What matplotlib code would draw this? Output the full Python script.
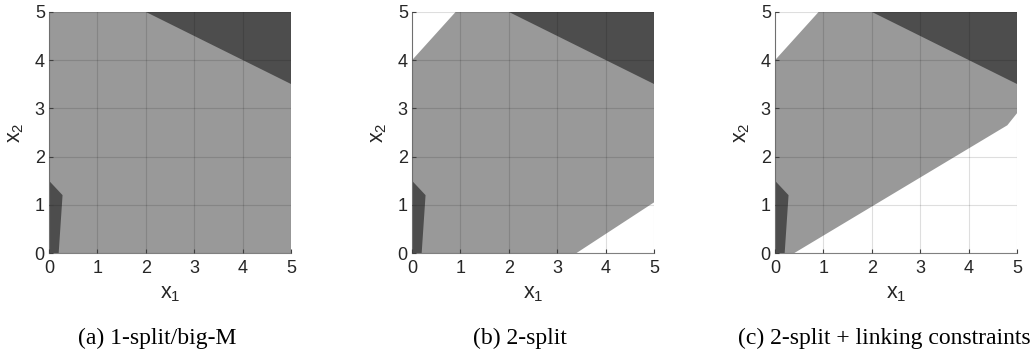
import matplotlib
matplotlib.use("Agg")
import matplotlib.pyplot as plt
from matplotlib.patches import Polygon

# feasible regions (light) and the two dark regions, same in every panel
light_a_x = [0, 5, 5, 0]
light_a_y = [0, 0, 5, 5]
light_b_x = [0, 3.4, 5, 5, 0.9, 0]
light_b_y = [0, 0, 1.05, 5, 5, 4]
light_c_x = [0, 0.4, 4.8, 5, 5, 0.9, 0]
light_c_y = [0, 0, 2.65, 2.9, 5, 5, 4]

dark_top_x = [2, 5, 5]
dark_top_y = [5, 5, 3.5]
dark_low_x = [0, 0.2, 0.28, 0]
dark_low_y = [0, 0, 1.2, 1.5]

captions = ["(a) 1-split/big-M", "(b) 2-split", "(c) 2-split + linking constraints"]
ticks = [0, 1, 2, 3, 4, 5]

LIGHT = "#999999"
DARK = "#4d4d4d"

fig = plt.figure(figsize=(10.36, 3.56), dpi=100)

lefts = [49 / 1036, 412 / 1036, 775 / 1036]
lights = [(light_a_x, light_a_y), (light_b_x, light_b_y), (light_c_x, light_c_y)]

for left, (lx, ly), cap in zip(lefts, lights, captions):
    ax = fig.add_axes([left, 1 - 253 / 356, 242 / 1036, 241 / 356])
    ax.add_patch(Polygon(list(zip(lx, ly)), closed=True, facecolor=LIGHT, edgecolor="none"))
    ax.add_patch(Polygon(list(zip(dark_top_x, dark_top_y)), closed=True, facecolor=DARK, edgecolor="none"))
    ax.add_patch(Polygon(list(zip(dark_low_x, dark_low_y)), closed=True, facecolor=DARK, edgecolor="none"))
    ax.set_xlim(0, 5)
    ax.set_ylim(0, 5)
    ax.set_xticks(ticks)
    ax.set_yticks(ticks)
    ax.set_axisbelow(False)
    ax.grid(True, color="black", alpha=0.13, linewidth=0.8)
    for s in ["top", "right"]:
        ax.spines[s].set_visible(False)
    for s in ["left", "bottom"]:
        ax.spines[s].set_color("#808080")
        ax.spines[s].set_linewidth(0.8)
    ax.tick_params(direction="in", length=3, color="#404040", labelsize=13,
                   labelcolor="#262626")
    ax.tick_params(axis="x", pad=5)
    ax.tick_params(axis="y", pad=3)
    for lab in ax.get_xticklabels() + ax.get_yticklabels():
        lab.set_fontfamily("Liberation Sans")
    ax.set_xlabel(r"$\mathregular{x_1}$", fontsize=15.5, family="Liberation Sans",
                  color="#262626", labelpad=4)
    ax.set_ylabel(r"$\mathregular{x_2}$", fontsize=15.5, family="Liberation Sans",
                  color="#262626", labelpad=6)

cap_x = [157, 520, 884]
for cx, cap in zip(cap_x, captions):
    fig.text(cx / 1036, 1 - 338 / 356, cap, ha="center", va="center",
             fontsize=17, family="Liberation Serif", color="black")

fig.savefig("out.png", dpi=100)
